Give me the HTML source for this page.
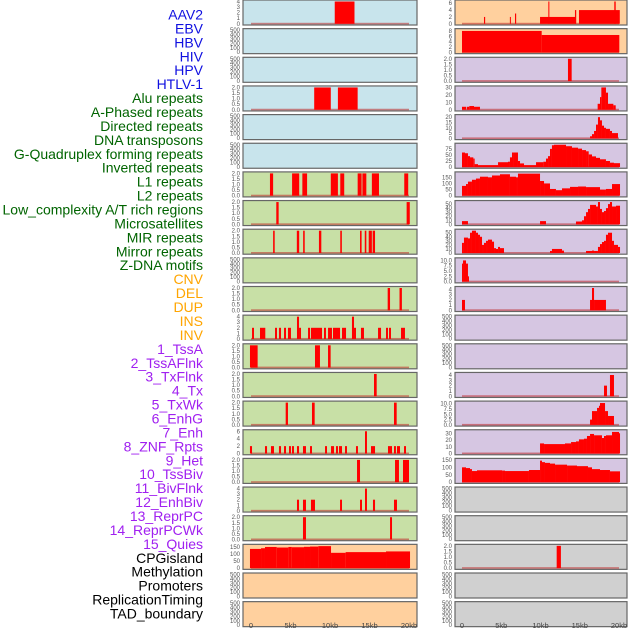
<!DOCTYPE html>
<html><head><meta charset="utf-8"><style>
body{margin:0;background:#fff;width:630px;height:630px;overflow:hidden}
svg{display:block;font-family:"Liberation Sans",sans-serif}
</style></head><body>
<svg id="c" width="630" height="630"></svg>
<script>
const labelNames=["AAV2","EBV","HBV","HIV","HPV","HTLV-1","Alu repeats","A-Phased repeats","Directed repeats","DNA transposons","G-Quadruplex forming repeats","Inverted repeats","L1 repeats","L2 repeats","Low_complexity A/T rich regions","Microsatellites","MIR repeats","Mirror repeats","Z-DNA motifs","CNV","DEL","DUP","INS","INV","1_TssA","2_TssAFlnk","3_TxFlnk","4_Tx","5_TxWk","6_EnhG","7_Enh","8_ZNF_Rpts","9_Het","10_TssBiv","11_BivFlnk","12_EnhBiv","13_ReprPC","14_ReprPCWk","15_Quies","CPGisland","Methylation","Promoters","ReplicationTiming","TAD_boundary"];
const labelColors=[...Array(6).fill("#1010e0"),...Array(13).fill("#006400"),...Array(5).fill("#ffa500"),...Array(15).fill("#a020f0"),...Array(5).fill("#000")];
const leftBg=[..."bbbbbb",..."ggggggggggggg",..."ooo"];
const rightBg=[..."oo",..."ppppppppppppppp",..."rrrrr"];
const leftMax=[4,500,500,2,500,500,2,2,2,500,2,4,2,2,2,6,2,4,2,160,500,500];
const rightMax=[6.5,8.3,2,30,21,92,182,55,55,10.5,4.3,500,500,4.2,10.5,33,150,500,500,2,500,500];
const T2=["0.0","0.5","1.0","1.5","2.0"],T4=["0","1","2","3","4"],T5=["0","100","200","300","400","500"],T10=["0.0","2.5","5.0","7.5","10.0"];
const leftTicks=[T4,T5,T5,T2,T5,T5,T2,T2,T2,T5,T2,T4,T2,T2,T2,["0","2","4","6"],T2,T4,T2,["0","50","100","150"],T5,T5];
const rightTicks=[["0","2","4","6"],["0","2","4","6","8"],T2,["0","10","20","30"],["0","5","10","15","20"],["0","25","50","75"],["0","50","100","150"],["0","10","20","30","40","50"],["0","10","20","30","40","50"],T10,T4,T5,T5,T4,T10,["0","10","20","30"],["0","50","100","150"],T5,T5,T2,T5,T5];
const leftSegs=[
[[10.6,13.1,4]],[],[],
[[8.0,10.1,2],[11.0,13.5,2]],[],[],
[[2.4,2.8,2],[5.2,6.1,2],[6.5,7.1,2],[10.1,11.0,2],[11.3,11.8,2],[13.5,14.0,2],[14.1,14.6,2],[15.3,16.2,2],[19.4,19.9,2]],
[[3.2,3.5,2],[19.7,20.1,2]],
[[2.8,3.0,2],[5.8,6.1,2],[6.6,6.8,2],[8.6,8.9,2],[11.3,11.5,2],[13.8,14.0,2],[14.4,14.6,2],[14.9,15.3,2],[15.4,15.7,2]],
[],
[[17.3,17.6,2],[18.8,19.1,2]],
[[0.13,0.38,2],[1.14,1.81,2],[3.04,3.29,2],[3.54,3.8,2],[4.18,4.43,2],[4.68,5.06,2],[5.82,6.08,4],[6.08,6.33,2],[7.22,7.47,2],[7.59,8.99,2],[9.24,9.49,2],[9.75,10.25,2],[10.38,11.27,2],[11.52,12.03,2],[12.78,13.04,4],[13.04,13.29,2],[13.92,14.3,2],[16.08,16.46,2],[17.09,17.34,2],[17.47,17.72,2],[18.99,19.49,2]],
[[-0.13,0.84,2],[8.1,8.73,2],[9.75,10.08,2]],
[[15.57,15.91,2]],
[[4.39,4.68,2],[7.72,8.06,2],[18.1,18.44,2]],
[[-0.13,0.13,2],[1.77,2.03,2],[2.53,2.91,2],[3.54,3.8,2],[4.18,4.43,2],[4.81,5.06,2],[5.19,5.44,2],[5.82,6.08,2],[6.58,6.96,2],[7.47,7.72,2],[9.37,9.62,2],[10.13,10.51,2],[10.76,11.01,2],[11.14,11.52,2],[11.9,12.15,2],[13.29,13.54,2],[14.43,14.68,6],[15.19,15.7,2],[17.34,17.85,2],[18.1,18.35,2],[18.48,18.86,2],[19.37,19.62,2]],
[[13.42,13.8,2],[18.23,18.73,2],[19.24,20.0,2]],
[[5.82,6.08,2],[6.58,6.96,2],[7.59,8.1,2],[11.27,11.52,2],[13.8,14.05,2],[14.43,14.68,4],[15.44,15.7,2],[18.1,18.48,2]],
[[6.58,6.96,2],[17.6,17.85,2]],
[[-0.13,1.27,138],[1.27,1.77,143],[1.77,3.25,152],[3.25,4.73,148],[4.73,5.15,152],[5.15,6.71,150],[6.71,7.47,153],[7.47,8.52,155],[8.52,10.13,158],[10.13,11.98,110],[11.98,17.09,115],[17.09,20.13,120]],
[],[]];
const rightSegs=[
[[2.8,2.95,2],[6.1,6.2,2],[6.75,6.9,3],[9.94,14.5,2],[11.0,11.13,6.5],[14.39,14.55,4],[14.9,20.1,4],[19.4,19.58,6.5]],
[[0,10.15,8],[10.15,20.04,6.5]],
[[13.5,13.97,2]],
[[0,0.51,4],[0.6,0.93,4],[0.93,1.53,5],[1.53,2.29,4],[17.28,17.58,8],[17.58,17.75,17],[17.75,18.34,30],[18.34,18.6,23],[18.6,19.28,8],[19.28,19.58,6]],
[[16.31,16.56,2],[16.56,16.82,4],[16.82,17.07,7],[17.07,17.32,13],[17.32,17.58,20],[17.58,17.83,17],[17.83,18.09,12],[18.09,18.34,10],[18.34,18.85,9],[18.85,19.11,7],[19.11,19.87,5]],
[[0,0.38,60],[0.38,0.76,57],[0.76,1.02,45],[1.02,1.44,40],[1.44,1.61,35],[1.61,2.04,12],[2.04,4.59,8],[4.59,5.35,20],[5.35,5.86,20],[5.86,6.11,22],[6.11,6.37,40],[6.37,6.62,60],[6.62,7.13,60],[7.13,7.39,25],[7.39,7.9,15],[7.9,9.43,8],[9.43,10.36,20],[10.36,10.7,22],[10.7,10.96,35],[10.96,11.21,45],[11.21,11.46,75],[11.46,11.72,90],[11.72,13.25,92],[13.25,14.01,86],[14.01,14.78,80],[14.78,15.29,76],[15.29,15.8,70],[15.8,16.14,65],[16.14,16.56,52],[16.56,17.07,44],[17.07,17.58,38],[17.58,18.34,32],[18.34,18.85,25],[18.85,19.36,18],[19.36,20.13,16]],
[[0,0.51,80],[0.51,0.76,95],[0.76,1.27,115],[1.27,1.78,130],[1.78,2.29,140],[2.29,3.31,155],[3.31,3.82,150],[3.82,4.84,165],[4.84,6.11,175],[6.11,6.88,155],[6.88,7.13,150],[7.13,9.94,180],[9.94,10.45,120],[10.45,11.21,100],[11.21,11.97,55],[11.97,12.74,45],[12.74,13.76,60],[13.76,14.78,72],[14.78,15.8,75],[15.8,17.58,70],[17.58,18.34,50],[18.34,19.11,55],[19.11,20.13,95]],
[[0,0.76,8],[9.94,10.7,8],[14.52,15.29,7],[15.29,15.54,10],[15.54,15.8,20],[15.8,16.05,30],[16.05,16.31,38],[16.31,17.07,48],[17.07,17.32,44],[17.32,17.58,55],[17.58,17.83,38],[17.83,18.09,30],[18.09,18.34,33],[18.34,18.6,40],[18.6,18.85,50],[18.85,19.11,55],[19.11,19.62,44],[19.62,20.13,46]],
[[0,0.25,25],[0.25,0.76,38],[0.76,1.02,36],[1.02,1.27,50],[1.27,1.78,55],[1.78,2.04,50],[2.04,2.29,45],[2.29,2.55,40],[2.55,2.8,20],[2.8,3.06,25],[3.06,3.31,30],[3.31,3.82,33],[3.82,4.08,28],[4.08,4.33,12],[4.33,4.59,10],[4.59,4.84,15],[4.84,5.35,12],[11.21,11.46,5],[11.46,12.74,10],[12.74,12.99,6],[15.8,16.56,5],[16.56,16.82,6],[16.82,17.32,5],[17.32,17.58,15],[17.58,17.83,22],[17.83,18.09,27],[18.09,18.34,30],[18.34,18.6,45],[18.6,18.85,50],[18.85,19.11,50],[19.11,19.36,30],[19.36,19.87,20],[19.87,20.13,15]],
[[0,0.13,8.5],[0.13,0.51,10],[0.51,0.76,8.5],[0.76,0.89,2.5]],
[[0,0.38,2],[16.31,16.56,2],[16.56,16.82,4.3],[16.82,18.34,2]],
[],[],
[[18.09,18.47,2],[18.85,19.36,4]],
[[16.31,16.56,2.5],[16.56,17.2,6.5],[17.2,17.45,8],[17.45,17.58,9],[17.58,18.22,10.3],[18.22,18.6,6.5],[18.6,19.36,4.2]],
[[9.94,10.45,15],[10.45,13.12,14],[13.12,13.89,15],[13.89,14.52,17],[14.52,14.9,18],[14.9,15.54,21],[15.54,15.92,22],[15.92,16.31,26],[16.31,16.82,29],[16.82,17.83,27],[17.83,18.09,23],[18.09,18.34,26],[18.34,19.11,27],[19.11,20.0,32],[20.0,20.13,30]],
[[0,0.51,100],[0.51,1.02,95],[1.02,1.27,88],[1.27,1.91,75],[1.91,5.1,80],[5.1,5.48,78],[5.48,8.53,75],[8.53,9.94,82],[9.94,10.19,145],[10.19,10.57,135],[10.57,11.21,130],[11.21,11.85,125],[11.85,13.38,118],[13.38,14.65,112],[14.65,16.05,108],[16.05,16.56,100],[16.56,17.58,88],[17.58,18.85,82],[18.85,20.13,73]],
[],[],
[[12.06,12.6,2]],
[],[]];
const xTickLabels=["0","5kb","10kb","15kb","20kb"];
const xTickKb=[0,5,10,15,20];

const NS="http://www.w3.org/2000/svg";
const svg=document.getElementById("c");
const bgCol={b:"#c8e4ec",g:"#c8e0a6",o:"#ffd09e",p:"#d6c6e2",r:"#d0d0d0"};
function mk(tag,attrs,parent){const e=document.createElementNS(NS,tag);for(const k in attrs)e.setAttribute(k,attrs[k]);(parent||svg).appendChild(e);return e;}
const cols=[{px0:243,px1:417,x0:251,k:7.9,tx:240,segs:leftSegs,max:leftMax,ticks:leftTicks,bg:leftBg,name:"left"},
            {px0:455,px1:627,x0:462,k:7.85,tx:452,segs:rightSegs,max:rightMax,ticks:rightTicks,bg:rightBg,name:"right"}];
const STEP=28.65,PH=25;
function yScale(top,max,v){return top+PH-1.2-(v/max)*(PH-2.7);}
cols.forEach(c=>{
  const xs=kb=>c.x0+kb*c.k;
  for(let i=0;i<22;i++){
    const top=i*STEP;
    const g=mk("g",{});
    
    
    const r=mk("rect",{x:c.px0,y:top,width:c.px1-c.px0,height:PH,fill:bgCol[c.bg[i]]||"#d0d0d0",stroke:"#666",'stroke-width':1.2},g);
    
    
    const segs=c.segs[i],max=c.max[i];
    if(segs.length){
      const bl=mk("rect",{x:xs(0),y:yScale(top,max,0)-1,width:xs(20)-xs(0),height:1.6,fill:"rgba(190,40,40,0.55)"},g);
      
      
    }
    segs.forEach(s=>{
      const y=yScale(top,max,Math.min(s[2],max)),y0=yScale(top,max,0);
      const b=mk("rect",{x:xs(s[0]),y:y,width:Math.max(1,xs(s[1])-xs(s[0])),height:y0-y,fill:"#ff0000"},g);
      
      
    });
    const tl=c.ticks[i];
    tl.forEach(t=>{
      const v=parseFloat(t);
      const ty=max===500?top+PH-1.5-(v/500)*(PH-3):yScale(top,max,v);
      const tt=mk("text",{x:c.tx,y:ty+2,'text-anchor':'end','font-size':6,fill:"#555"},g);
      tt.textContent=t;
      
      
    });
  }
  xTickKb.forEach((kb,j)=>{
    const t=mk("text",{x:xs(kb),y:628,'text-anchor':'middle','font-size':7.5,fill:"#444"});
    t.textContent=xTickLabels[j];
    
    
  });
});
labelNames.forEach((n,i)=>{
  const t=mk("text",{x:203,y:15+i*13.93+4.5,'text-anchor':'end','font-size':14,fill:labelColors[i]});
  t.textContent=n;
  
  
});
</script>
</body></html>
